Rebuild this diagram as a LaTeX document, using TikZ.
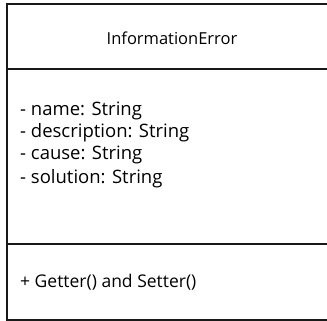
\documentclass[tikz,border=0pt]{standalone}
\usepackage{fontspec}
\setmainfont{Open Sans}
\usetikzlibrary{positioning}

\begin{document}
\begin{tikzpicture}[
  x=1pt,y=-1pt,
  node distance=22pt,
  frame/.style={draw=black!90,line width=1.6pt},
  classname/.style={inner sep=0pt,font=\fontsize{16.5}{20}\selectfont},
  member/.style={inner sep=0pt,anchor=west,text height=12pt,text depth=3.5pt,font=\fontsize{18.5}{22}\selectfont}
]
  \useasboundingbox (0,0) rectangle (327,321);

  % class compartments
  \draw[frame] (345,4) -- (7,4) -- (7,320) -- (345,320);
  \draw[frame] (7,69) -- (345,69);
  \draw[frame] (7,244) -- (345,244);

  \node[classname] (title) at (172,38) {InformationError};

  \node[member] (attrName) at (20,111) {- name: String};
  \node[member,below=of attrName.west,anchor=west] (attrDesc) {- description: String};
  \node[member,below=of attrDesc.west,anchor=west] (attrCause) {- cause: String};
  \node[member,below=24pt of attrCause.west,anchor=west] (attrSol) {- solution: String};

  \node[member,font=\fontsize{17.5}{21}\selectfont] (ops) at (20,283) {+ Getter() and Setter()};
\end{tikzpicture}
\end{document}
